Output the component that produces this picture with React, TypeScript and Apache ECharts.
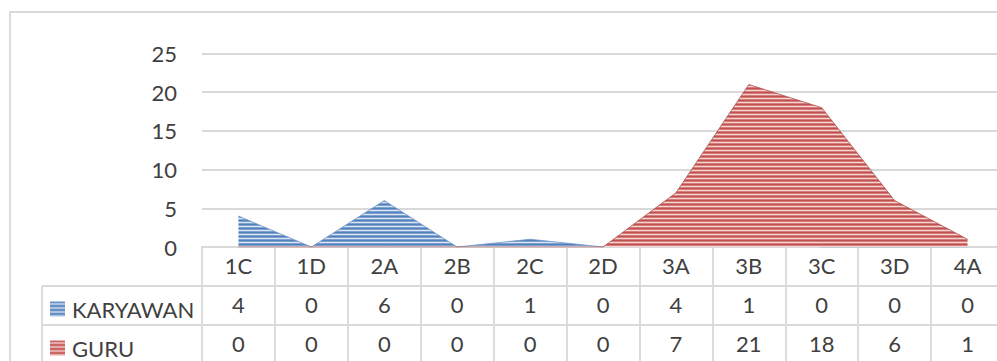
import React, { useEffect, useRef } from "react";
import * as echarts from "echarts";

const categories = ["1C", "1D", "2A", "2B", "2C", "2D", "3A", "3B", "3C", "3D", "4A"];
const karyawan = [4, 0, 6, 0, 1, 0, 4, 1, 0, 0, 0];
const guru = [0, 0, 0, 0, 0, 0, 7, 21, 18, 6, 1];
const yTicks = { min: 0, max: 25, interval: 5 };

const FONT = "Lato, 'Open Sans', sans-serif";
const TXT = "#404040";
const GRID = "#d9d9d9";
const FS = 22;

function stripe(rows: string[]) {
  const c = document.createElement("canvas");
  c.width = 4;
  c.height = rows.length;
  const ctx = c.getContext("2d")!;
  rows.forEach((col, i) => {
    ctx.fillStyle = col;
    ctx.fillRect(0, i, 4, 1);
  });
  return { image: c, repeat: "repeat" } as any;
}

export default function App() {
  const ref = useRef<HTMLDivElement>(null);
  useEffect(() => {
    if (!ref.current) return;
    const chart = echarts.init(ref.current, undefined, { renderer: "svg" });
    const blue = stripe(["#4f81bd", "#7ea1cf", "#dbe5f3", "#7ea1cf"]);
    const red = stripe(["#c0504d", "#d47d7b", "#f4d5d4", "#d47d7b"]);
    const rowH = 39;
    const baseX = (labels: any[], offset: number, show: boolean) => ({
      type: "category",
      data: categories,
      position: "bottom",
      offset,
      boundaryGap: true,
      axisLine: { show: true, lineStyle: { color: GRID, width: 1.8 } },
      axisTick: { show: true, interval: 0, length: rowH, lineStyle: { color: GRID, width: 1.8 } },
      axisLabel: {
        show,
        interval: 0,
        margin: 0,
        lineHeight: rowH - 2,
        fontSize: FS,
        fontFamily: FONT,
        color: TXT,
        formatter: (_v: string, i: number) => String(labels[i]),
      },
      splitLine: { show: false },
    });
    const legendText = { fontSize: FS, fontFamily: FONT, color: TXT, lineHeight: 15, padding: [0, 0, 0, 2] };
    chart.setOption({
      animation: false,
      grid: { left: 202, right: 8, top: 53.5, bottom: 370 - 247, containLabel: false },
      xAxis: [baseX(categories, 0, true), baseX(karyawan, rowH, true), baseX(guru, rowH * 2, true)],
      yAxis: {
        type: "value",
        min: yTicks.min,
        max: yTicks.max,
        interval: yTicks.interval,
        axisLine: { show: false },
        axisTick: { show: false },
        axisLabel: { fontSize: FS, fontFamily: FONT, color: TXT, margin: 25 },
        splitLine: { lineStyle: { color: GRID, width: 1.8 } },
      },
      legend: [
        {
          data: [{ name: "KARYAWAN", itemStyle: { color: blue } }],
          left: 50,
          top: 298,
          padding: 0,
          icon: "rect",
          itemWidth: 15,
          itemHeight: 15,
          itemGap: 0,
          textStyle: legendText,
        },
        {
          data: [{ name: "GURU", itemStyle: { color: red } }],
          left: 50,
          top: 337,
          padding: 0,
          icon: "rect",
          itemWidth: 15,
          itemHeight: 15,
          itemGap: 0,
          textStyle: legendText,
        },
      ],
      series: [
        {
          name: "KARYAWAN",
          type: "line",
          data: karyawan,
          showSymbol: false,
          itemStyle: { color: "#4f81bd" },
          lineStyle: { color: "#6d93c6", width: 0.8 },
          areaStyle: { color: blue, opacity: 1 },
          z: 2,
        },
        {
          name: "GURU",
          type: "line",
          data: guru,
          showSymbol: false,
          itemStyle: { color: "#c0504d" },
          lineStyle: { color: "#b5504d", width: 0.8 },
          areaStyle: { color: red, opacity: 1 },
          z: 3,
        },
      ],
      graphic: [
        {
          type: "rect",
          shape: { x: 10, y: 12, width: 1100, height: 400 },
          style: { fill: "none", stroke: GRID, lineWidth: 1.8 },
          silent: true,
          z: -1,
        },
        { type: "line", shape: { x1: 42, y1: 286, x2: 202, y2: 286 }, style: { stroke: GRID, lineWidth: 1.8 } },
        { type: "line", shape: { x1: 42, y1: 325, x2: 202, y2: 325 }, style: { stroke: GRID, lineWidth: 1.8 } },
        { type: "line", shape: { x1: 42, y1: 364, x2: 202, y2: 364 }, style: { stroke: GRID, lineWidth: 1.8 } },
        { type: "line", shape: { x1: 42, y1: 286, x2: 42, y2: 370 }, style: { stroke: GRID, lineWidth: 1.8 } },
      ],
    });
    return () => chart.dispose();
  }, []);
  return (
    <div style={{ position: "fixed", left: 0, top: 0, width: 997, height: 361, overflow: "hidden", background: "#fff" }}>
      <div ref={ref} style={{ width: 1012, height: 370 }} />
    </div>
  );
}
